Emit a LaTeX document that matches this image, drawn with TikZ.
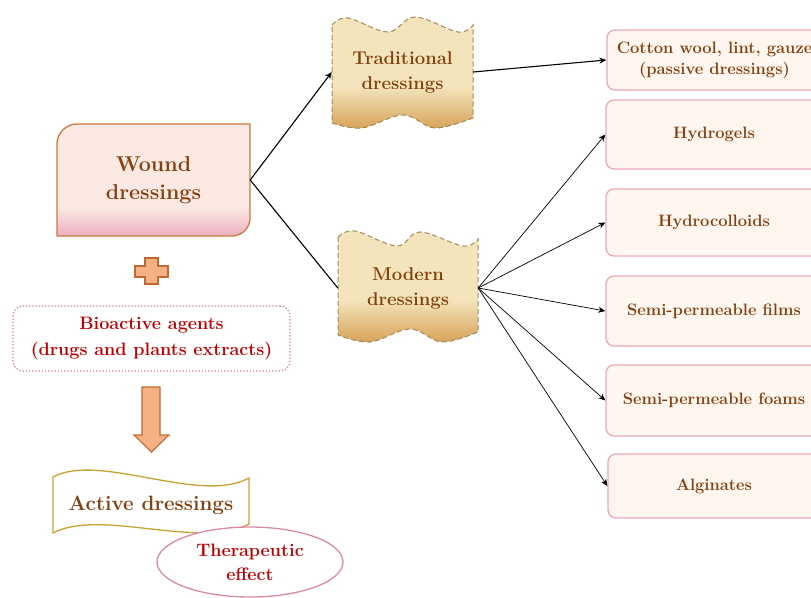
\documentclass[tikz,border=0pt]{standalone}
\usetikzlibrary{arrows.meta,shapes.geometric}
\definecolor{brn}{HTML}{84400F}
\definecolor{redt}{HTML}{C00000}
\definecolor{pinkA}{HTML}{FCE9E3}
\definecolor{pinkB}{HTML}{EBAFC3}
\definecolor{woundb}{HTML}{C97A3E}
\definecolor{plusf}{HTML}{F4B183}
\definecolor{plusb}{HTML}{BF6A2E}
\definecolor{dotc}{HTML}{D9779A}
\definecolor{goldc}{HTML}{C9A234}
\definecolor{ellc}{HTML}{D98BA5}
\definecolor{tanA}{HTML}{F4E4BC}
\definecolor{tanB}{HTML}{D6A257}
\definecolor{dashc}{HTML}{A08A58}
\definecolor{boxb}{HTML}{EBA9BC}
\definecolor{boxf}{HTML}{FFF7EF}
\pgfdeclareverticalshading{woundshade}{100bp}{color(0bp)=(pinkB); color(25bp)=(pinkB); color(38bp)=(pinkA); color(100bp)=(pinkA)}
\pgfdeclareverticalshading{tanshade}{100bp}{color(0bp)=(tanB); color(25bp)=(tanB); color(44bp)=(tanA); color(100bp)=(tanA)}
\begin{document}
\begin{tikzpicture}[x=1pt,y=-1pt,
  anchorbox/.style={inner sep=0pt, align=center, text=brn},
  rbox/.style={draw=boxb, fill=boxf, line width=1.3pt, rounded corners=8pt,
    minimum width=216pt, inner sep=0pt, align=center, text=brn,
    font=\bfseries\fontsize{16.5}{21}\selectfont},
  conn/.style={line width=1.1pt, -{Stealth[length=7pt,width=6pt]}},
  fan/.style={line width=0.7pt, -{Stealth[length=7pt,width=6pt]}},
  wavy/.style={shading=tanshade, draw=dashc, line width=1pt, dash pattern=on 5pt off 3pt}
]
\clip (0,0) rectangle (811,597);
\fill[white] (0,0) rectangle (811,597);

% Wound dressings
\shadedraw[shading=woundshade, draw=woundb, line width=1.3pt]
  (57,236) -- (57,144) .. controls (57,133) and (66,124) .. (77,124) -- (250,124)
  -- (250,218) .. controls (250,228) and (242,236) .. (232,236) -- cycle;
\node[anchorbox, minimum width=193pt, minimum height=112pt,
  font=\bfseries\fontsize{21.5}{28}\selectfont] (wound) at (153.5,180) {Wound\\dressings};

% plus
\filldraw[fill=plusf, draw=plusb, line width=1.1pt]
  (145,258) -- (158,258) -- (158,266) -- (168,266) -- (168,277) -- (158,277)
  -- (158,284) -- (145,284) -- (145,277) -- (135,277) -- (135,266) -- (145,266) -- cycle;

% Bioactive agents
\node[draw=dotc, dotted, line width=1.2pt, rounded corners=10pt, minimum width=277pt,
  minimum height=65pt, inner sep=0pt, align=center, text=redt,
  font=\bfseries\fontsize{18}{26}\selectfont] (bio) at (151.5,338.5)
  {Bioactive agents\\(drugs and plants extracts)};

% down arrow
\filldraw[fill=plusf, draw=plusb, line width=1.1pt]
  (142,387) -- (160,387) -- (160,435) -- (169,435) -- (151.5,452) -- (134,435) -- (142,435) -- cycle;

% Active dressings
\filldraw[fill=white, draw=goldc, line width=1.3pt]
  (53,477) .. controls (100,452) and (200,505) .. (249,478) -- (249,524)
  .. controls (200,550) and (100,508) .. (53,533) -- cycle;
\node[anchorbox, font=\bfseries\fontsize{20.7}{26}\selectfont] (active) at (151,505) {Active dressings};

% Therapeutic effect
\node[ellipse, draw=ellc, fill=white, line width=1.3pt, minimum width=186pt, minimum height=70pt,
  inner sep=0pt, align=center, text=redt, font=\bfseries\fontsize{18}{24}\selectfont]
  (ther) at (250,562) {Therapeutic\\effect};

% Traditional dressings
\shadedraw[wavy]
  plot[smooth, tension=0.6] coordinates {(332,25) (348,18) (388,32) (415,17) (458,32) (473,25)}
  -- plot[smooth, tension=0.6] coordinates {(473,118) (435,128) (403,115) (362,128) (332,123)} -- cycle;
\node[anchorbox, minimum width=141pt, minimum height=100pt,
  font=\bfseries\fontsize{18.5}{25}\selectfont] (trad) at (402.5,72) {Traditional\\dressings};

% Modern dressings
\shadedraw[wavy]
  plot[smooth, tension=0.6] coordinates {(338,237) (355,231) (397,246) (420,232) (463,246) (478,239)}
  -- plot[smooth, tension=0.6] coordinates {(478,332) (442,342) (410,329) (370,342) (338,335)} -- cycle;
\node[anchorbox, minimum width=140pt, minimum height=100pt,
  font=\bfseries\fontsize{18.5}{25}\selectfont] (modern) at (408,288) {Modern\\dressings};

% right boxes
\node[rbox, minimum height=60pt, minimum width=215pt] (cotton) at (714.5,60) {Cotton wool, lint, gauze\\(passive dressings)};
\node[rbox, minimum height=69pt] (hydrogel) at (714,134.5) {Hydrogels};
\node[rbox, minimum height=67pt] (hydrocol) at (714,222.5) {Hydrocolloids};
\node[rbox, minimum height=70pt] (films) at (714,311) {Semi-permeable films};
\node[rbox, minimum height=71pt] (foams) at (714,400.5) {Semi-permeable foams};
\node[rbox, minimum height=64pt, minimum width=212pt] (algin) at (714,486) {Alginates};

% connectors
\draw[conn] (wound.east) -- (trad.west);
\draw[line width=1.1pt] (wound.east) -- (modern.west);
\draw[conn] (trad.east) -- (cotton.west);
\draw[fan] (modern.east) -- (hydrogel.west);
\draw[fan] (modern.east) -- (hydrocol.west);
\draw[fan] (modern.east) -- (films.west);
\draw[fan] (modern.east) -- (foams.west);
\draw[fan] (modern.east) -- (algin.west);
\end{tikzpicture}
\end{document}
